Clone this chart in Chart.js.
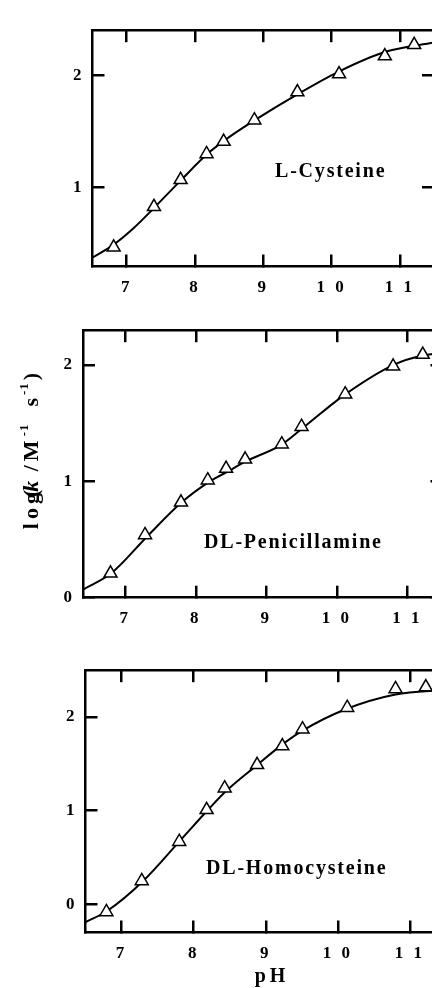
<!DOCTYPE html>
<html><head><meta charset="utf-8">
<script src="https://cdn.jsdelivr.net/npm/chart.js@4.4.1/dist/chart.umd.min.js"></script>
<style>
html,body{margin:0;padding:0;width:432px;height:988px;overflow:hidden;background:#fff;}
canvas{position:absolute;left:0;}
</style></head><body>
<canvas id="c1" width="470" height="300" style="top:0px"></canvas>
<canvas id="c2" width="470" height="338" style="top:300px"></canvas>
<canvas id="c3" width="470" height="348" style="top:640px"></canvas>
<script>
// ---- data ----
const xTicks = [7, 8, 9, 10, 11];
const xTickLabels = ['7', '8', '9', '1 0', '1 1'];

const cysPH   = [6.81, 7.40, 7.79, 8.17, 8.42, 8.87, 9.50, 10.11, 10.78, 11.21];
const cysLogK = [0.47, 0.83, 1.07, 1.30, 1.41, 1.60, 1.85, 2.01, 2.17, 2.27];
const cysFitPH   = [6.5, 6.8, 7.1, 7.4, 7.8, 8.2, 8.5, 8.9, 9.5, 10.1, 10.8, 11.5];
const cysFitLogK = [0.38, 0.49, 0.64, 0.82, 1.07, 1.31, 1.45, 1.61, 1.83, 2.03, 2.21, 2.29];
const cysYTicks = [1, 2];
const cysYLabels = ['1', '2'];

const penPH   = [6.79, 7.28, 7.79, 8.17, 8.43, 8.70, 9.22, 9.50, 10.12, 10.80, 11.22];
const penLogK = [0.21, 0.54, 0.82, 1.01, 1.11, 1.19, 1.32, 1.47, 1.75, 1.99, 2.09];
const penFitPH   = [6.4, 6.8, 7.3, 7.8, 8.2, 8.5, 8.7, 9.2, 9.5, 10.1, 10.8, 11.2, 11.5];
const penFitLogK = [0.07, 0.21, 0.52, 0.82, 1.00, 1.10, 1.17, 1.31, 1.45, 1.74, 2.00, 2.08, 2.10];
const penYTicks = [0, 1, 2];
const penYLabels = ['0', '1', '2'];

const hcyPH   = [6.79, 7.28, 7.80, 8.18, 8.43, 8.88, 9.23, 9.51, 10.13, 10.80, 11.22];
const hcyLogK = [-0.08, 0.25, 0.67, 1.01, 1.24, 1.49, 1.69, 1.87, 2.10, 2.30, 2.32];
const hcyFitPH   = [6.5, 6.8, 7.3, 7.8, 8.2, 8.45, 8.9, 9.2, 9.5, 10.1, 10.8, 11.5];
const hcyFitLogK = [-0.19, -0.07, 0.25, 0.67, 1.01, 1.21, 1.50, 1.69, 1.85, 2.08, 2.24, 2.29];
const hcyYTicks = [0, 1, 2];
const hcyYLabels = ['0', '1', '2'];

const panelNames = ['L-Cysteine', 'DL-Penicillamine', 'DL-Homocysteine'];
const yAxisTitle = ['log', '(', 'k', ' /M', '-1', '  s', '-1', ')'];
const xAxisTitle = 'pH';

// ---- rendering ----
const FAM = '"Liberation Serif", "Times New Roman", serif';
const W = 470;

function pts(xs, ys) { return xs.map((x, i) => ({x: x, y: ys[i]})); }

function drawYTitle(ctx, cx, cy) {
  const big = 'bold 22px ' + FAM, ital = 'italic bold 22px ' + FAM, small = 'bold 13px ' + FAM;
  // [text, font, rise, letterSpacing, preShift]
  const segs = [
    [yAxisTitle[0], big, 0, 4, 0],
    [yAxisTitle[1], big, 0, 0, -8],
    [yAxisTitle[2], ital, 0, 0, -2],
    [yAxisTitle[3], big, 0, 4, 0],
    [yAxisTitle[4], small, -10, 1, 0],
    [yAxisTitle[5], big, 0, 3, 0],
    [yAxisTitle[6], small, -10, 1, 0],
    [yAxisTitle[7], big, 0, 0, 2]
  ];
  ctx.save();
  ctx.fillStyle = '#000';
  ctx.textBaseline = 'alphabetic';
  ctx.textAlign = 'left';
  let total = 0;
  const widths = segs.map(s => {
    ctx.font = s[1]; ctx.letterSpacing = s[3] + 'px';
    const w = ctx.measureText(s[0]).width + s[4];
    total += w; return w;
  });
  ctx.translate(cx, cy);
  ctx.rotate(-Math.PI / 2);
  let x = -total / 2;
  segs.forEach((s, i) => {
    ctx.font = s[1]; ctx.letterSpacing = s[3] + 'px';
    x += s[4];
    ctx.fillText(s[0], x, s[2]);
    x += widths[i] - s[4];
  });
  ctx.restore();
}

const textPlugin = {
  id: 'panelText',
  beforeDraw(chart) { chart.ctx.letterSpacing = '3px'; },
  beforeDatasetsDraw(chart) { chart.ctx.letterSpacing = '0px'; },
  afterDraw(chart, args, o) {
    const ctx = chart.ctx;
    ctx.save();
    ctx.fillStyle = '#000';
    ctx.font = 'bold 20px ' + FAM;
    ctx.letterSpacing = '1.8px';
    ctx.textAlign = 'left';
    ctx.textBaseline = 'alphabetic';
    ctx.fillText(o.name, o.nx, o.ny);
    ctx.restore();
    if (o.yTitle) drawYTitle(ctx, o.yTitle[0], o.yTitle[1]);
    if (o.xTitle) {
      ctx.save();
      ctx.fillStyle = '#000';
      ctx.font = 'bold 20px ' + FAM;
      ctx.letterSpacing = '4px';
      ctx.textAlign = 'center';
      ctx.textBaseline = 'alphabetic';
      ctx.fillText(xAxisTitle, o.xTitle[0] + 2, o.xTitle[1]);
      ctx.restore();
    }
  }
};

function panel(id, H, cfg) {
  const area = cfg.area;
  const tickFont = {family: FAM, size: 17, weight: 'bold'};
  const grid = {drawOnChartArea: false, drawTicks: true, tickLength: -12, lineWidth: 2.5, color: '#000'};
  const border = {display: true, width: 2.5, color: '#000'};
  const setX = s => { s.ticks = xTicks.map(v => ({value: v})); };
  const setY = s => { s.ticks = cfg.yTicks.map(v => ({value: v})); };
  new Chart(document.getElementById(id), {
    type: 'scatter',
    data: {
      datasets: [
        {data: pts(cfg.px, cfg.py), showLine: false, pointStyle: 'triangle', pointRadius: 7.5,
         pointBackgroundColor: '#fff', pointBorderColor: '#000', pointBorderWidth: 1.5},
        {data: pts(cfg.fx, cfg.fy), showLine: true, pointRadius: 0, borderColor: '#000',
         borderWidth: 2, cubicInterpolationMode: 'monotone', fill: false}
      ]
    },
    options: {
      responsive: false, animation: false, devicePixelRatio: 1,
      layout: {padding: 0},
      plugins: {legend: {display: false}, tooltip: {enabled: false},
                panelText: {name: cfg.name, nx: cfg.nx, ny: cfg.ny, yTitle: cfg.yTitle, xTitle: cfg.xTitle}},
      scales: {
        x: {type: 'linear', position: 'bottom', min: cfg.xMin, max: cfg.xMax,
            afterBuildTicks: setX, afterFit: s => { s.height = H - area.bottom; },
            ticks: {callback: (v, i) => xTickLabels[i], font: tickFont, color: '#000', padding: 23,
                    maxRotation: 0, autoSkip: false},
            grid: grid, border: border},
        x2: {type: 'linear', position: 'top', min: cfg.xMin, max: cfg.xMax,
            afterBuildTicks: setX, afterFit: s => { s.height = area.top; },
            ticks: {display: false}, grid: grid, border: border},
        y: {type: 'linear', position: 'left', min: cfg.yMin, max: cfg.yMax,
            afterBuildTicks: setY, afterFit: s => { s.width = area.left; },
            ticks: {callback: (v, i) => cfg.yLabels[i], font: tickFont, color: '#000', padding: 20},
            grid: grid, border: border},
        y2: {type: 'linear', position: 'right', min: cfg.yMin, max: cfg.yMax,
            afterBuildTicks: setY, afterFit: s => { s.width = W - area.right; },
            ticks: {display: false}, grid: grid, border: border}
      }
    },
    plugins: [textPlugin]
  });
}

panel('c1', 300, {
  area: {left: 92.5, top: 14, right: 434, bottom: 266.5},
  xMin: 6.5, xMax: 11.5, yMin: 0.3, yMax: 2.4,
  yTicks: cysYTicks, yLabels: cysYLabels,
  px: cysPH, py: cysLogK, fx: cysFitPH, fy: cysFitLogK,
  name: panelNames[0], nx: 275, ny: 177
});
panel('c2', 338, {
  area: {left: 83, top: 29.5, right: 442.5, bottom: 297.7},
  xMin: 6.4, xMax: 11.5, yMin: 0, yMax: 2.3,
  yTicks: penYTicks, yLabels: penYLabels,
  px: penPH, py: penLogK, fx: penFitPH, fy: penFitLogK,
  name: panelNames[1], nx: 204, ny: 247.5,
  yTitle: [38, 151]
});
panel('c3', 348, {
  area: {left: 85.5, top: 23.5, right: 446, bottom: 292.5},
  xMin: 6.5, xMax: 11.5, yMin: -0.3, yMax: 2.5,
  yTicks: hcyYTicks, yLabels: hcyYLabels,
  px: hcyPH, py: hcyLogK, fx: hcyFitPH, fy: hcyFitLogK,
  name: panelNames[2], nx: 206, ny: 233.5,
  xTitle: [270, 342]
});
</script>
</body></html>
